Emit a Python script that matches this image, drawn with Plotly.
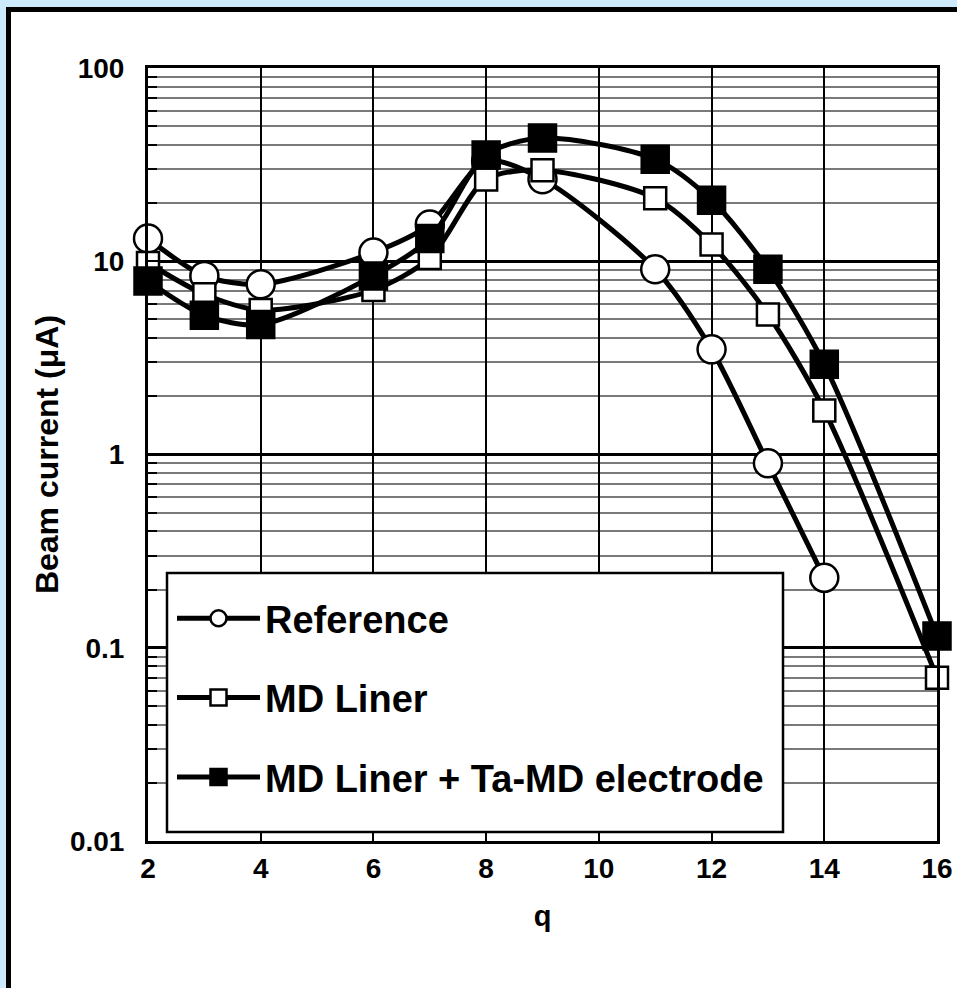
import plotly.graph_objects as go

# ---- data ----
q_ref = [2, 3, 4, 6, 7, 8, 9, 11, 12, 13, 14]
i_ref = [13.1, 8.4, 7.6, 11.1, 15.5, 33.0, 26.6, 9.1, 3.5, 0.9, 0.23]

q_md = [2, 3, 4, 6, 7, 8, 9, 11, 12, 13, 14, 16]
i_md = [9.8, 6.75, 5.6, 7.1, 10.4, 26.5, 29.6, 21.2, 12.2, 5.3, 1.69, 0.07]

q_ta = [2, 3, 4, 6, 7, 8, 9, 11, 12, 13, 14, 16]
i_ta = [7.9, 5.25, 4.7, 8.4, 13.1, 35.5, 43.4, 33.7, 20.7, 9.1, 2.93, 0.115]

names = ["Reference", "MD Liner", "MD Liner + Ta-MD electrode"]
x_ticks = [2, 4, 6, 8, 10, 12, 14, 16]
y_tickvals = [0.01, 0.1, 1, 10, 100]
y_ticktext = ["0.01", "0.1", "1", "10", "100"]
minor_vals = [m * 10 ** e for e in range(-2, 2) for m in range(2, 10)]

FONT = "Arial, Liberation Sans, sans-serif"

# plot-area pixel geometry (for paper-coordinate conversions)
L, R, T, B = 148, 937, 68, 841
W, H = R - L, B - T
px = lambda v: (v - L) / W
py = lambda v: (B - v) / H

fig = go.Figure()
series = [
    (q_ref, i_ref, names[0], "circle", "white", 28),
    (q_md, i_md, names[1], "square", "white", 22),
    (q_ta, i_ta, names[2], "square", "black", 27),
]
for i, (xs, ys, nm, sym, fc, sz) in enumerate(series):
    fig.add_trace(go.Scatter(
        x=xs, y=ys, name=nm, mode="lines+markers",
        line=dict(color="black", width=5, shape="spline", smoothing=0.8),
        marker=dict(symbol=sym, size=sz, color=fc, line=dict(color="black", width=2.5)),
        legendgroup=f"g{i}", cliponaxis=False,
    ))

# white panel with black frame on light blue page
fig.add_shape(type="rect", xref="paper", yref="paper",
              x0=px(8.5), x1=px(990), y0=py(1020), y1=py(9.5),
              fillcolor="white", line=dict(color="black", width=5), layer="below")
# legend box
fig.add_shape(type="rect", xref="paper", yref="paper",
              x0=px(167), x1=px(783), y0=py(832), y1=py(573),
              fillcolor="white", line=dict(color="black", width=2.5), layer="above")

fig.update_layout(
    width=957, height=988,
    margin=dict(l=L, r=957 - R, t=T, b=988 - B, autoexpand=False),
    paper_bgcolor="#cdeafc",
    plot_bgcolor="white",
    font=dict(family=FONT, color="black"),
    showlegend=True,
    legend=dict(
        x=px(172), y=py(587), xanchor="left", yanchor="top",
        bgcolor="rgba(0,0,0,0)", borderwidth=0,
        font=dict(family=FONT, size=38, color="black", weight="bold"),
        traceorder="grouped", tracegroupgap=27, itemwidth=83,
    ),
)

fig.update_xaxes(
    range=[2, 16], tickvals=x_ticks, ticks="inside", ticklen=10, tickwidth=2, tickcolor="black",
    showgrid=True, gridcolor="black", gridwidth=2,
    showline=True, linecolor="black", linewidth=3, mirror=True,
    tickfont=dict(family=FONT, size=28, color="black", weight="bold"),
    ticklabelstandoff=0, automargin=False,
    title=dict(text="q", font=dict(family=FONT, size=29, color="black", weight="bold"), standoff=24),
    zeroline=False,
)
fig.update_yaxes(
    type="log", range=[-2, 2], tickvals=y_tickvals, ticktext=y_ticktext,
    ticks="inside", ticklen=10, tickwidth=2, tickcolor="black",
    showgrid=True, gridcolor="black", gridwidth=2.5,
    showline=True, linecolor="black", linewidth=3, mirror=True,
    minor=dict(tickvals=minor_vals, ticks="inside", ticklen=9, tickwidth=2, tickcolor="black",
               showgrid=True, gridcolor="#7a7a7a", gridwidth=2),
    tickfont=dict(family=FONT, size=28, color="black", weight="bold"),
    ticklabelstandoff=15, automargin=False,
    title=dict(text="Beam current (μA)", font=dict(family=FONT, size=32, color="black", weight="bold"), standoff=2),
    zeroline=False,
)

fig.write_html("out.html")
